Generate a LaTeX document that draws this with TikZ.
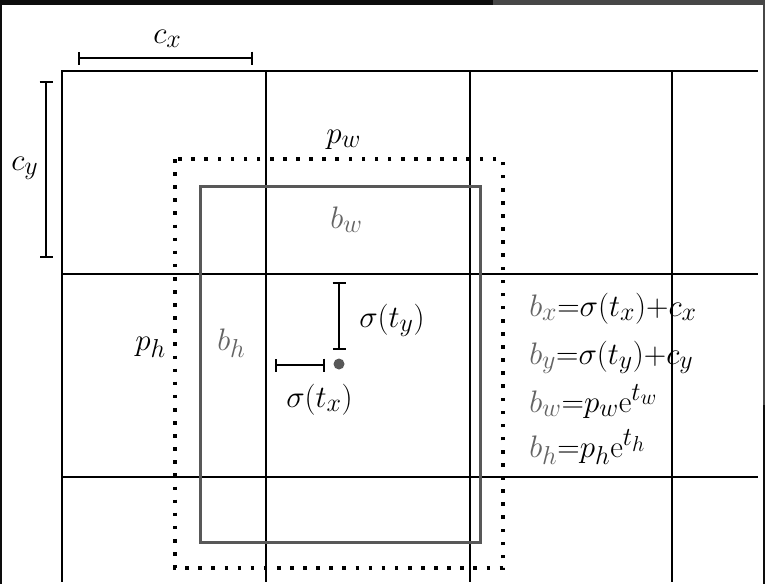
\documentclass[tikz,border=0pt]{standalone}
\usetikzlibrary{arrows.meta}
\definecolor{boxgray}{RGB}{88,88,88}
\definecolor{txtgray}{RGB}{100,100,100}
\newcommand\gr[1]{{\color{txtgray}#1}}
\begin{document}
\begin{tikzpicture}[x=1pt,y=-1pt,
  grid/.style={line width=2pt, black},
  measure/.style={line width=2pt, {Bar[width=13pt,line width=2pt]}-{Bar[width=13pt,line width=2pt]}},
  lbl/.style={inner sep=0pt, anchor=base west, font=\Huge, scale=1.25, transform shape},
  glbl/.style={lbl, text=txtgray},
  anchorbox/.style={line width=3.6pt, dash pattern=on 3.6pt off 9.5pt},
  predbox/.style={boxgray, line width=3pt},
]
\useasboundingbox (0,0) rectangle (765,584);
\fill[white] (0,0) rectangle (765,584);
% screenshot frame
\fill[black!95] (0,0) rectangle (493,5);
\fill[black!72] (493,0) rectangle (765,5);
\fill[black!95] (0,0) rectangle (2,584);
\fill[black!72] (763,0) rectangle (765,405);
\fill[black!95] (763,405) rectangle (765,584);
% grid
\draw[grid] (61,71) -- (758,71);
\draw[grid] (61,274) -- (758,274);
\draw[grid] (61,477) -- (758,477);
\draw[grid] (62,70) -- (62,582);
\draw[grid] (266,71) -- (266,582);
\draw[grid] (470,71) -- (470,582);
\draw[grid] (672,71) -- (672,582);
% anchor (prior) box and predicted box
\draw[anchorbox] (175,159) rectangle (503,568);
\draw[predbox] (200,186) rectangle (480,542);
% measures
\coordinate (cxA) at (78,58);
\coordinate (cxB) at (253,58);
\draw[measure] (cxA) -- (cxB);
\coordinate (cyA) at (46,81);
\coordinate (cyB) at (46,258);
\draw[measure] (cyA) -- (cyB);
\coordinate (tyA) at (339,282);
\coordinate (tyB) at (339,350);
\draw[measure] (tyA) -- (tyB);
\coordinate (txA) at (275,365);
\coordinate (txB) at (325,365);
\draw[measure] (txA) -- (txB);
\fill[boxgray] (339,364) circle (5.5);
% labels
\node[lbl] (cx) at (153,43) {$c_x$};
\node[lbl] (cy) at (11,170) {$c_y$};
\node[lbl] (pw) at (326,143) {$p_w$};
\node[glbl] (bw) at (330,228) {$b_w$};
\node[lbl] (ph) at (135,350) {$p_h$};
\node[glbl] (bh) at (217,350) {$b_h$};
\node[lbl] (sty) at (359,327) {$\sigma(t_y)$};
\node[lbl] (stx) at (286,407) {$\sigma(t_x)$};
% equations
\node[lbl] (eqx) at (529,316) {$\gr{b_x}{=}\sigma(t_x){+}c_x$};
\node[lbl] (eqy) at (529,364) {$\gr{b_y}{=}\sigma(t_y){+}c_y$};
\node[lbl] (eqw) at (529,412) {$\gr{b_w}{=}p_w\mathrm{e}^{t_w}$};
\node[lbl] (eqh) at (529,457) {$\gr{b_h}{=}p_h\mathrm{e}^{t_h}$};
\end{tikzpicture}
\end{document}
